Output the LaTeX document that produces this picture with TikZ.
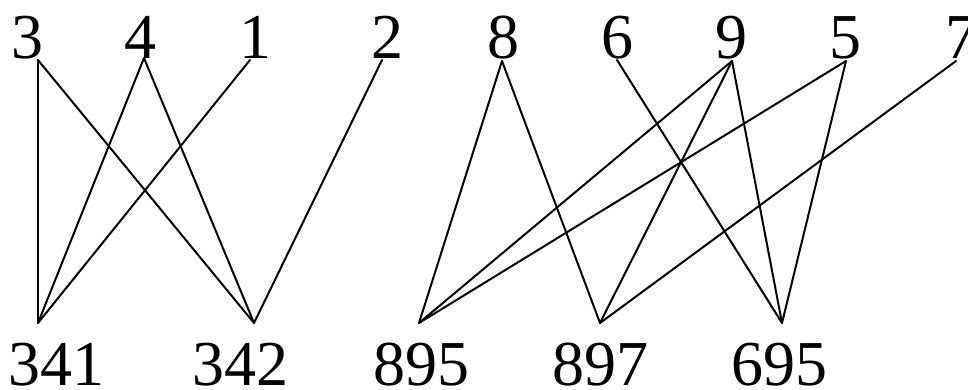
\documentclass[tikz,border=0pt]{standalone}
\usepackage{fontspec}
\setmainfont{Liberation Serif}
\begin{document}
\begin{tikzpicture}[x=1pt,y=1pt,
  lbl/.style={anchor=base,inner sep=0pt,font=\fontsize{64}{64}\selectfont},
  edge/.style={line width=2pt,line cap=round,line join=round}]
\useasboundingbox (0,0) rectangle (968,389);
% top labels
\node[lbl] (n3) at (27,330) {3};
\node[lbl] (n4) at (140,330) {4};
\node[lbl] (n1) at (255,330) {1};
\node[lbl] (n2) at (387,330) {2};
\node[lbl] (n8) at (503,330) {8};
\node[lbl] (n6) at (617,330) {6};
\node[lbl] (n9) at (731,330) {9};
\node[lbl] (n5) at (845,330) {5};
\node[lbl] (n7) at (961,330) {7};
% bottom labels
\node[lbl] (n341) at (57,4) {341};
\node[lbl] (n342) at (240,4) {342};
\node[lbl] (n895) at (421,4) {895};
\node[lbl] (n897) at (600,4) {897};
\node[lbl] (n695) at (779,4) {695};
% line end points
\coordinate (t3) at (38,329);
\coordinate (t4) at (144,331);
\coordinate (t1) at (250,329);
\coordinate (t2) at (382,329);
\coordinate (t8) at (502,328);
\coordinate (t6) at (617,329);
\coordinate (t9) at (732,328);
\coordinate (t5) at (846,328);
\coordinate (t7) at (956,328);
\coordinate (b341) at (38,66);
\coordinate (b342) at (254,66);
\coordinate (b895) at (419,66);
\coordinate (b897) at (600,66);
\coordinate (b695) at (782,66);
% edges
\draw[edge] (t3) -- (b341);
\draw[edge] (t3) -- (b342);
\draw[edge] (t4) -- (b341);
\draw[edge] (t4) -- (b342);
\draw[edge] (t1) -- (b341);
\draw[edge] (t2) -- (b342);
\draw[edge] (t8) -- (b895);
\draw[edge] (t8) -- (b897);
\draw[edge] (t6) -- (b695);
\draw[edge] (t9) -- (b895);
\draw[edge] (t9) -- (b897);
\draw[edge] (t9) -- (b695);
\draw[edge] (t5) -- (b895);
\draw[edge] (t5) -- (b695);
\draw[edge] (t7) -- (b897);
\end{tikzpicture}
\end{document}
